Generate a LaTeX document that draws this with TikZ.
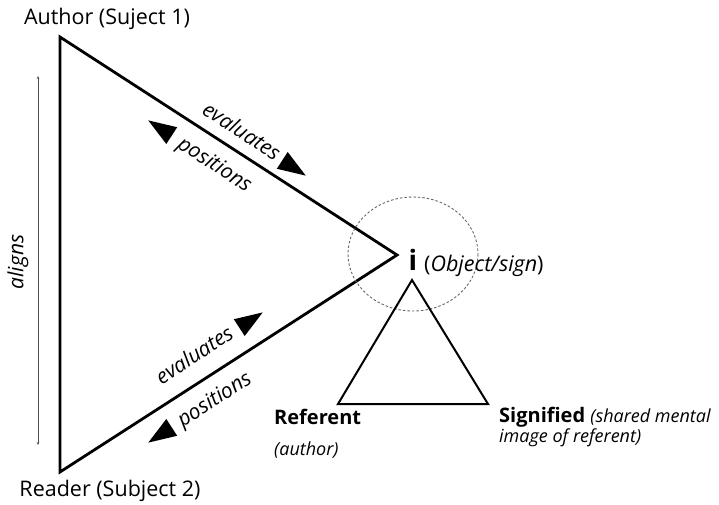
\documentclass[tikz,border=0pt]{standalone}
\usepackage{fontspec}
\setmainfont{Open Sans}
\usetikzlibrary{arrows.meta}
\begin{document}
\begin{tikzpicture}[x=1pt,y=-1pt,
  edge/.style={line width=2.8pt,line join=miter},
  small/.style={line width=2pt,line join=miter},
  lab/.style={font=\fontsize{21.5}{26}\selectfont,inner sep=0pt},
  ilab/.style={font=\fontsize{21}{25}\selectfont\itshape,inner sep=0pt},
  slab/.style={font=\fontsize{18}{21}\selectfont\itshape,inner sep=0pt},
  blab/.style={font=\fontsize{20}{24}\selectfont\bfseries,inner sep=0pt},
  tri/.style={fill=black}]
\useasboundingbox (0,0) rectangle (719,504);
\coordinate (A) at (60,37);
\coordinate (Rd) at (60,472);
\coordinate (I) at (397,255);
\draw[edge] (A) -- (I) -- (Rd) -- cycle;
% aligns
\coordinate (al1) at (38,76);
\coordinate (al2) at (38,445);
\draw[line width=0.6pt,black!70,{Stealth[length=3pt,width=2.5pt]}-{Stealth[length=3pt,width=2.5pt]}] (al1) -- (al2);
\node[ilab,rotate=90] (aligns) at (18,262) {aligns};
% upper edge labels
\node[ilab,rotate=-33] (ev1) at (242,130.5) {evaluates};
\node[ilab,rotate=-33] (po1) at (214,165.5) {positions};
\fill[tri,shift={(294,168)},rotate=-33] (14,0) -- (-14,10) -- (-14,-10) -- cycle;
\fill[tri,shift={(160,128)},rotate=147] (14,0) -- (-14,10) -- (-14,-10) -- cycle;
% lower edge labels
\node[ilab,rotate=33] (ev2) at (194,354.5) {evaluates};
\node[ilab,rotate=33] (po2) at (215,400.5) {positions};
\fill[tri,shift={(251,320)},rotate=33] (14,0) -- (-14,10) -- (-14,-10) -- cycle;
\fill[tri,shift={(160,435)},rotate=213] (14,0) -- (-14,10) -- (-14,-10) -- cycle;
% object circle
\draw[black!60,line width=0.9pt,dash pattern=on 2.5pt off 2pt] (413,254) ellipse [x radius=65,y radius=57];
% small triangle
\coordinate (Ap) at (412,280);
\coordinate (Rf) at (338,404);
\coordinate (Sg) at (488,404);
\draw[small] (Ap) -- (Rf) -- (Sg) -- cycle;
% texts
\node[lab] (author) at (107,19) {Author (Suject 1)};
\node[lab] (reader) at (110,491) {Reader (Subject 2)};
\node[font=\fontsize{28}{30}\selectfont\bfseries,inner sep=0pt,anchor=base] (i) at (413,270) {i};
\node[lab,anchor=base west] (obj) at (424,271) {(\textit{Object/sign})};
\node[blab,anchor=base west] (ref) at (274,424) {Referent};
\node[slab,anchor=base west] (refa) at (274,455) {(author)};
\node[blab,anchor=base west] (sig) at (499,422) {Signified \fontsize{18}{21}\selectfont\mdseries\itshape(shared mental};
\node[slab,anchor=base west] (sig2) at (499,442) {image of referent)};
\end{tikzpicture}
\end{document}
